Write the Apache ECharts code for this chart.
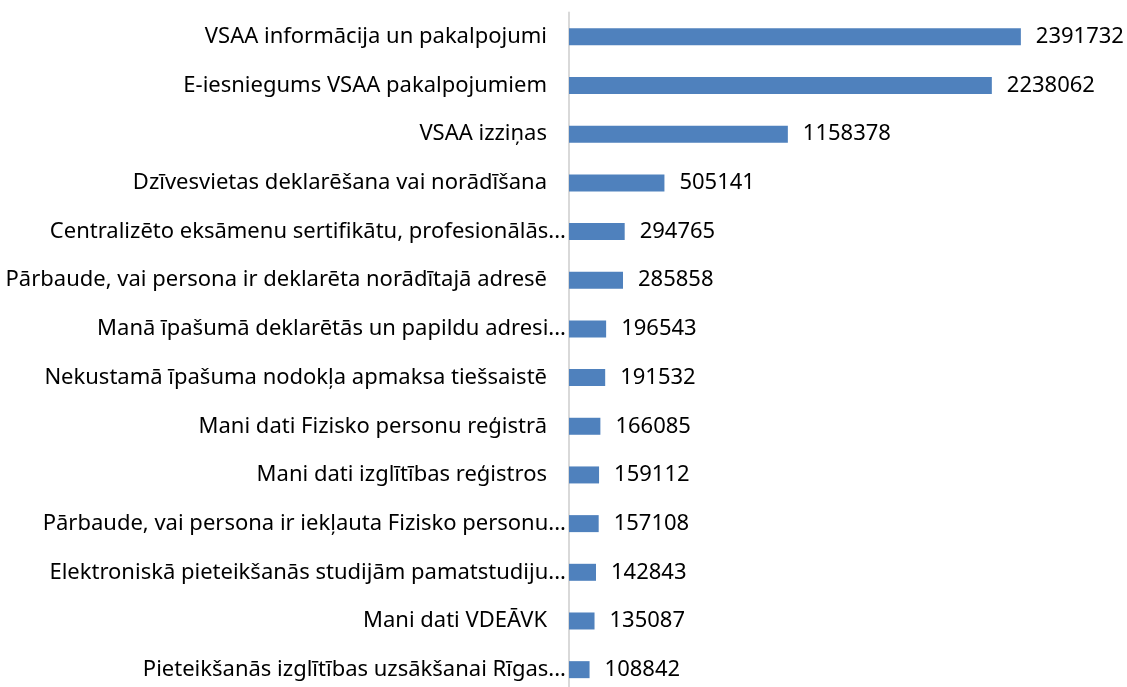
<!DOCTYPE html>
<html>
<head>
<meta charset="utf-8">
<script src="https://cdn.jsdelivr.net/npm/echarts@6/dist/echarts.min.js"></script>
<style>
  html, body { margin: 0; padding: 0; background: #fff; }
  #chart { width: 1127px; height: 687px; }
</style>
</head>
<body>
<div id="chart"></div>
<script>
// categories as shown on the chart (Excel cut the long ones)
const services = [
  'VSAA informācija un pakalpojumi',
  'E-iesniegums VSAA pakalpojumiem',
  'VSAA izziņas',
  'Dzīvesvietas deklarēšana vai norādīšana',
  'Centralizēto eksāmenu sertifikātu, profesionālās...',
  'Pārbaude, vai persona ir deklarēta norādītajā adresē',
  'Manā īpašumā deklarētās un papildu adresi...',
  'Nekustamā īpašuma nodokļa apmaksa tiešsaistē',
  'Mani dati Fizisko personu reģistrā',
  'Mani dati izglītības reģistros',
  'Pārbaude, vai persona ir iekļauta Fizisko personu...',
  'Elektroniskā pieteikšanās studijām pamatstudiju...',
  'Mani dati VDEĀVK',
  'Pieteikšanās izglītības uzsākšanai Rīgas...'
]
const usage = [
  2391732, 2238062, 1158378, 505141, 294765, 285858, 196543,
  191532, 166085, 159112, 157108, 142843, 135087, 108842
]

const chart = echarts.init(document.getElementById('chart'))
chart.setOption({
  animation: false,
  textStyle: { fontFamily: 'Noto Sans' },
  grid: {
    left: 569,
    right: 29,
    top: 12.5,
    height: 681.5,
    containLabel: false,
    outerBoundsMode: 'none'
  },
  xAxis: {
    type: 'value',
    min: 0,
    max: 2800000,
    show: false
  },
  yAxis: {
    type: 'category',
    inverse: true,
    data: services,
    axisTick: { show: false },
    axisLine: {
      show: true,
      lineStyle: { color: '#d9d9d9', width: 2 }
    },
    axisLabel: {
      margin: 3,
      formatter: function (v) {
        // full names sit a bit further from the axis than the cut ones
        return v.endsWith('...') ? '{c|' + v + '}' : '{f|' + v + '}'
      },
      rich: {
        c: { fontSize: 22, color: '#000', fontFamily: 'Noto Sans' },
        f: { fontSize: 22, color: '#000', fontFamily: 'Noto Sans', padding: [0, 19, 0, 0] }
      }
    }
  },
  series: [{
    type: 'bar',
    data: usage,
    barWidth: 17,
    itemStyle: { color: '#4f81bd' },
    label: {
      show: true,
      position: 'right',
      distance: 15,
      fontSize: 22,
      color: '#000',
      fontFamily: 'Noto Sans'
    }
  }]
})
</script>
</body>
</html>
